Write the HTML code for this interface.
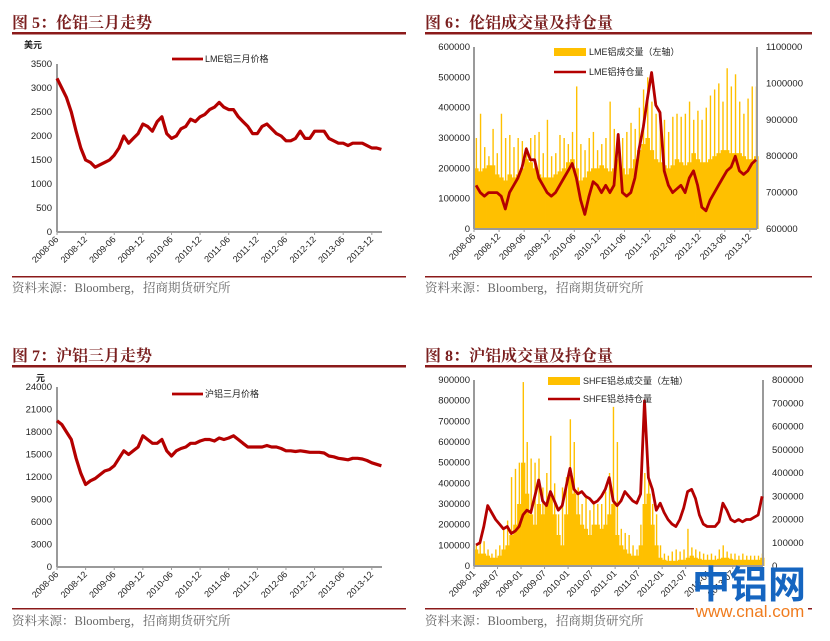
<!DOCTYPE html>
<html><head><meta charset="utf-8"><style>
html,body{margin:0;padding:0;background:#fff;}
svg{display:block;font-family:"Liberation Sans","Noto Sans CJK SC",sans-serif;}
</style></head><body>
<svg id="s" width="830" height="641" viewBox="0 0 830 641">
<g>
<text x="12" y="28" font-size="16" font-weight="bold" fill="#7a1f1f" font-family="'Liberation Serif','Noto Serif CJK SC',serif">图 5：伦铝三月走势</text>
<rect x="12" y="32" width="394" height="2.5" fill="#8b1a1a"/>
<text x="425" y="28" font-size="16" font-weight="bold" fill="#7a1f1f" font-family="'Liberation Serif','Noto Serif CJK SC',serif">图 6：伦铝成交量及持仓量</text>
<rect x="425" y="32" width="387" height="2.5" fill="#8b1a1a"/>
<text x="12" y="361" font-size="16" font-weight="bold" fill="#7a1f1f" font-family="'Liberation Serif','Noto Serif CJK SC',serif">图 7：沪铝三月走势</text>
<rect x="12" y="365" width="394" height="2.5" fill="#8b1a1a"/>
<text x="425" y="361" font-size="16" font-weight="bold" fill="#7a1f1f" font-family="'Liberation Serif','Noto Serif CJK SC',serif">图 8：沪铝成交量及持仓量</text>
<rect x="425" y="365" width="387" height="2.5" fill="#8b1a1a"/>
<rect x="12" y="276" width="394" height="1.5" fill="#8b1a1a"/>
<rect x="425" y="276" width="387" height="1.5" fill="#8b1a1a"/>
<rect x="12" y="608" width="394" height="1.5" fill="#8b1a1a"/>
<rect x="425" y="608" width="387" height="1.5" fill="#8b1a1a"/>
<text x="12" y="292" font-size="12.5" fill="#666" font-family="'Liberation Serif','Noto Serif CJK SC',serif">资料来源：Bloomberg，招商期货研究所</text>
<text x="425" y="292" font-size="12.5" fill="#666" font-family="'Liberation Serif','Noto Serif CJK SC',serif">资料来源：Bloomberg，招商期货研究所</text>
<text x="12" y="625" font-size="12.5" fill="#666" font-family="'Liberation Serif','Noto Serif CJK SC',serif">资料来源：Bloomberg，招商期货研究所</text>
<text x="425" y="625" font-size="12.5" fill="#666" font-family="'Liberation Serif','Noto Serif CJK SC',serif">资料来源：Bloomberg，招商期货研究所</text>
<text x="24" y="48" font-size="9" font-weight="bold" fill="#222">美元</text>
<text x="36" y="381" font-size="9" font-weight="bold" fill="#222">元</text>
</g>
<g id="charts"></g>
<g>
<rect x="694" y="600" width="114" height="20" fill="#fff"/>
<text x="749" y="598" font-size="38" font-weight="bold" fill="#1565c0" text-anchor="middle" font-family="'Noto Sans CJK SC',sans-serif">中铝网</text>
<text x="750" y="617" font-size="17" fill="#f07c1e" text-anchor="middle">www.cnal.com</text>
</g>
</svg>
<script>
// ===== Chart 5: LME 3M price (monthly, 2008-06 .. 2014-02)
const lmePrice = [3200,3000,2800,2500,2100,1750,1500,
1450,1350,1400,1450,1500,1600,1750,2000,1850,1950,2050,2250,
2200,2100,2300,2400,2050,1950,2000,2150,2200,2350,2300,2400,
2450,2550,2600,2700,2600,2550,2550,2400,2300,2200,2050,2050,
2200,2250,2150,2050,2000,1900,1900,1950,2100,1950,1950,2100,
2100,2100,1950,1900,1850,1850,1800,1850,1850,1850,1800,1750,
1750,1720];
// ===== Chart 7: SHFE 3M price
const shfePrice = [19500,19000,18000,17000,14500,12500,11000,
11500,11800,12300,12800,13000,13500,14500,15500,15000,15500,16000,17500,
17000,16500,16500,17000,15500,14800,15500,15800,16000,16500,16500,16800,
17000,17000,16800,17200,17000,17200,17500,17000,16500,16000,16000,16000,
16000,16200,16000,16000,15800,15500,15500,15400,15500,15400,15300,15300,
15300,15200,14800,14700,14500,14400,14300,14500,14500,14400,14200,13900,
13700,13500];
const priceTicks6 = ['2008-06','2008-12','2009-06','2009-12','2010-06','2010-12','2011-06','2011-12','2012-06','2012-12','2013-06','2013-12'];
const lmeYTicks = [0,500,1000,1500,2000,2500,3000,3500];
const shfeYTicks = [0,3000,6000,9000,12000,15000,18000,21000,24000];
// ===== Chart 6: LME volume (thousands) & open interest (thousands), 2008-06 .. 2014-01
const lmeVolBase = [200,190,200,210,210,180,170,
160,180,170,180,200,230,220,200,180,170,170,170,
180,190,200,220,230,200,160,170,190,200,200,210,
200,190,200,230,200,180,200,230,260,280,300,260,
230,220,210,200,210,230,220,210,220,250,230,220,
220,230,240,250,260,260,250,250,250,240,230,230,
240];
const lmeVolPeak = [300,380,270,240,330,250,380,
300,310,270,300,290,270,300,310,320,250,360,240,
250,310,300,280,320,470,280,260,300,320,260,280,
300,420,330,290,300,320,350,330,400,460,500,420,
380,350,360,320,370,380,370,380,420,360,390,360,
400,440,460,480,420,530,470,510,420,380,430,470,
470];
const lmeOI = [720,700,690,700,700,700,690,
655,700,720,740,770,820,790,790,740,720,700,690,
700,720,740,760,780,740,680,640,690,730,720,700,
720,700,720,860,700,690,700,740,820,880,960,1030,
940,920,760,720,700,710,720,700,740,760,720,660,
650,680,700,720,740,760,770,800,760,750,760,780,
790];
const lmeVolTicks = [0,100000,200000,300000,400000,500000,600000];
const lmeOITicks = [600000,700000,800000,900000,1000000,1100000];
// ===== Chart 8: SHFE volume & OI (thousands), 2008-01 .. 2014-02
const shfeVolBase = [80,60,60,50,40,40,50,80,100,150,200,300,
500,350,250,200,300,250,300,350,250,150,100,250,
450,350,250,200,180,150,200,200,180,200,250,300,
150,100,80,60,50,50,100,300,350,200,100,40,
30,25,25,25,30,30,40,50,40,35,30,30,
30,30,35,40,40,35,30,30,30,30,30,30,
30,40];
const shfeVolPeak = [100,120,120,80,60,80,100,180,220,430,470,500,
890,600,520,500,520,380,450,630,400,250,380,430,
710,600,380,300,340,270,300,300,300,360,450,770,
600,180,160,150,100,80,200,450,480,300,250,100,
60,50,70,80,70,80,180,90,80,70,60,55,
60,50,80,100,70,60,60,50,60,50,50,50,
50,60];
const shfeOI = [90,100,170,260,230,200,180,160,170,140,150,170,
220,240,230,300,370,280,260,320,280,240,260,340,
420,330,310,320,300,290,270,280,300,330,380,280,
260,280,320,300,280,270,310,710,380,330,240,270,
230,200,180,170,200,250,320,330,290,220,180,170,
170,170,190,270,240,200,190,200,190,200,200,210,
220,300];
const shfeTicks = ['2008-01','2008-07','2009-01','2009-07','2010-01','2010-07','2011-01','2011-07','2012-01','2012-07','2013-01','2013-07'];
const shfeVolTicks = [0,100000,200000,300000,400000,500000,600000,700000,800000,900000];
const shfeOITicks = [0,100000,200000,300000,400000,500000,600000,700000,800000];

const NS='http://www.w3.org/2000/svg';
const RED='#b40000';
const root=document.getElementById('charts');
function mk(tag,attrs,parent){const e=document.createElementNS(NS,tag);for(const k in attrs)e.setAttribute(k,attrs[k]);(parent||root).appendChild(e);return e;}
function scale(d0,d1,r0,r1){return v=>r0+(v-d0)/(d1-d0)*(r1-r0);}

function axes(g,x0,x1,yTop,yBot,rightX){
  const a=mk('line',{x1:x0,y1:yTop,x2:x0,y2:yBot,stroke:'#9a9a9a','stroke-width':2},g);
  
  
  const b=mk('line',{x1:x0,y1:yBot,x2:rightX||x1,y2:yBot,stroke:'#9a9a9a','stroke-width':2},g);
  
  
  if(rightX){const c=mk('line',{x1:rightX,y1:yTop,x2:rightX,y2:yBot,stroke:'#9a9a9a','stroke-width':2},g);
    
    }
}
function yLabels(g,ticks,y,x,anchor,name){
  ticks.forEach(t=>{const e=mk('text',{x:x,y:y(t)+3,'font-size':9.5,fill:'#222','text-anchor':anchor},g);e.textContent=t;
    
    });
}
function xLabels(g,labels,xi,step,yBot){
  labels.forEach((l,i)=>{const px=xi(i*step);
    const tk=mk('line',{x1:px,y1:yBot,x2:px,y2:yBot+3,stroke:'#9a9a9a'},g);
    
    
    const e=mk('text',{x:px+2,y:yBot+8,'font-size':9,fill:'#222','text-anchor':'end',transform:`rotate(-45 ${px+2} ${yBot+8})`},g);e.textContent=l;
    
    });
}
function linePath(vals,xi,y){return vals.map((v,i)=>(i?'L':'M')+xi(i).toFixed(1)+' '+y(v).toFixed(1)).join(' ');}

function priceChart(name,vals,yTicks,yTop,yBot,legendY,legendText){
  const g=mk('g',{});
  
  
  const x0=57,x1=382,pm=4.77;
  const xi=i=>x0+i*pm;
  const y=scale(0,yTicks[yTicks.length-1],yBot,yTop);
  axes(g,x0,x1,yTop,yBot);
  yLabels(g,yTicks,y,x0-5,'end','y-tick-label');
  xLabels(g,priceTicks6,xi,6,yBot);
  const p=mk('path',{d:linePath(vals,xi,y),fill:'none',stroke:RED,'stroke-width':3.2,'stroke-linejoin':'round'},g);
  
  
  const ll=mk('line',{x1:172,y1:legendY,x2:203,y2:legendY,stroke:RED,'stroke-width':2.8},g);
  
  
  const lt=mk('text',{x:205,y:legendY+3,'font-size':9,fill:'#222'},g);lt.textContent=legendText;
  
  
}
priceChart('chart5-lme-price',lmePrice,lmeYTicks,64,232,59,'LME铝三月价格');
priceChart('chart7-shfe-price',shfePrice,shfeYTicks,387,567,394,'沪铝三月价格');

function volChart(name,cfg){
  const g=mk('g',{});
  
  
  const {x0,x1,pm,yTop,yBot,base,peak,oi,lTicks,rTicks,labels,step,leg}=cfg;
  const xi=i=>x0+i*pm;
  const yl=scale(lTicks[0],lTicks[lTicks.length-1],yBot,yTop);
  const yr=scale(rTicks[0],rTicks[rTicks.length-1],yBot,yTop);
  base.forEach((v,i)=>{const r=mk('rect',{x:xi(i),y:yl(v*1000),width:pm+0.4,height:yBot-yl(v*1000),fill:'#ffc000'},g);
    
    });
  peak.forEach((v,i)=>{const r=mk('rect',{x:xi(i)+pm*0.4,y:yl(v*1000),width:1.4,height:yBot-yl(v*1000),fill:'#ffc000'},g);
    
    });
  axes(g,x0,x1,yTop,yBot,x1);
  yLabels(g,lTicks,yl,x0-4,'end','left-y-tick-label');
  yLabels(g,rTicks,yr,x1+9,'start','right-y-tick-label');
  xLabels(g,labels,xi,step,yBot);
  const p=mk('path',{d:linePath(oi.map(v=>v*1000),i=>xi(i)+pm/2,yr),fill:'none',stroke:RED,'stroke-width':2.8,'stroke-linejoin':'round'},g);
  
  
  const sw=mk('rect',{x:leg.x,y:leg.y1-4,width:32,height:8,fill:'#ffc000'},g);
  
  
  const t1=mk('text',{x:leg.x+35,y:leg.y1+3,'font-size':9,fill:'#222'},g);t1.textContent=leg.t1;
  
  
  const l2=mk('line',{x1:leg.x,y1:leg.y2,x2:leg.x+32,y2:leg.y2,stroke:RED,'stroke-width':2.6},g);
  
  
  const t2=mk('text',{x:leg.x+35,y:leg.y2+3,'font-size':9,fill:'#222'},g);t2.textContent=leg.t2;
  
  
}
volChart('chart6-lme-volume-oi',{x0:474,x1:757,pm:4.18,yTop:47,yBot:229,base:lmeVolBase,peak:lmeVolPeak,oi:lmeOI,
  lTicks:lmeVolTicks,rTicks:lmeOITicks,labels:priceTicks6,step:6,
  leg:{x:554,y1:52,y2:72,t1:'LME铝成交量（左轴）',t2:'LME铝持仓量'}});
volChart('chart8-shfe-volume-oi',{x0:474,x1:763,pm:3.92,yTop:380,yBot:566,base:shfeVolBase,peak:shfeVolPeak,oi:shfeOI,
  lTicks:shfeVolTicks,rTicks:shfeOITicks,labels:shfeTicks,step:6,
  leg:{x:548,y1:381,y2:399,t1:'SHFE铝总成交量（左轴）',t2:'SHFE铝总持仓量'}});
</script>
</body></html>
